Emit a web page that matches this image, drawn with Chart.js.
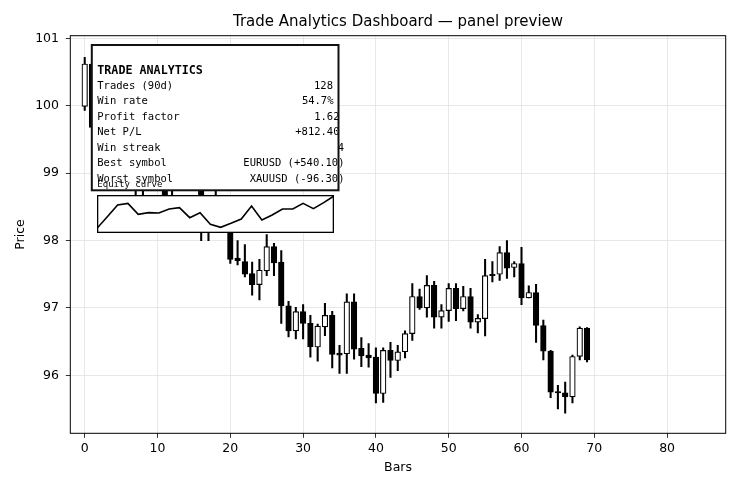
<!DOCTYPE html>
<html>
<head>
<meta charset="utf-8">
<title>Trade Analytics Dashboard</title>
<script src="https://cdn.jsdelivr.net/npm/chart.js@4.4.1/dist/chart.umd.min.js"></script>
<style>
  html, body { margin: 0; padding: 0; background: #fff; }
  #wrap { position: relative; width: 740px; height: 490px; }
  #priceChart { position: absolute; left: 0; top: 0; }
  #equityChart { position: absolute; left: 97px; top: 195px; }
</style>
</head>
<body>
<div id="wrap">
  <canvas id="priceChart" width="740" height="490"></canvas>
  <canvas id="equityChart" width="237" height="38"></canvas>
</div>
<script>
// OHLC per bar (bar index = position in array)
const opens  = [99.99, 100.62, 99.68, 99.52, 99.62, 99.28, 99.38, 99.05, 98.85, 99.00,
                99.15, 98.98, 98.45, 98.60, 98.40, 98.55, 98.80, 98.30, 98.45, 98.55,
                98.25, 97.74, 97.69, 97.51, 97.345, 97.55, 97.91, 97.68, 97.03, 96.66,
                96.945, 96.77, 96.42, 96.72, 96.89, 96.33, 96.32, 97.09, 96.40, 96.30,
                96.27, 95.73, 96.37, 96.22, 96.35, 96.62, 97.17, 97.00, 97.335, 96.865,
                96.96, 97.29, 96.99, 97.17, 96.79, 96.84, 97.50, 97.50, 97.82, 97.60,
                97.66, 97.15, 97.23, 96.74, 96.36, 95.76, 95.74, 95.68, 96.28, 96.70];
const highs  = [100.72, 100.63, 99.80, 99.70, 99.75, 99.45, 99.50, 99.20, 99.10, 99.25,
                99.30, 99.10, 98.80, 98.65, 98.62, 98.64, 98.85, 98.60, 98.80, 98.62,
                98.40, 98.00, 97.94, 97.68, 97.72, 98.09, 97.96, 97.85, 97.10, 97.01,
                97.05, 96.89, 96.76, 97.07, 96.95, 96.445, 97.21, 97.21, 96.56, 96.47,
                96.41, 96.41, 96.49, 96.445, 96.66, 97.36, 97.28, 97.48, 97.395, 97.05,
                97.36, 97.36, 97.32, 97.29, 96.90, 97.72, 97.69, 97.91, 98.00, 97.69,
                97.90, 97.33, 97.35, 96.82, 96.37, 95.85, 95.90, 96.30, 96.72, 96.71];
const lows   = [99.93, 99.66, 99.45, 99.30, 99.20, 99.05, 98.95, 98.62, 98.60, 98.80,
                98.90, 98.40, 98.35, 98.30, 98.28, 98.35, 98.00, 98.00, 98.35, 98.20,
                97.66, 97.64, 97.46, 97.19, 97.12, 97.48, 97.48, 96.77, 96.57, 96.54,
                96.54, 96.27, 96.21, 96.59, 96.11, 96.03, 96.03, 96.24, 96.13, 96.12,
                95.59, 95.60, 95.97, 96.07, 96.26, 96.52, 96.98, 96.865, 96.70, 96.70,
                96.80, 96.81, 96.955, 96.70, 96.63, 96.585, 97.385, 97.41, 97.44, 97.46,
                97.05, 97.15, 96.49, 96.23, 95.67, 95.50, 95.44, 95.59, 96.23, 96.20];
const closes = [100.62, 99.68, 99.52, 99.62, 99.28, 99.38, 99.05, 98.85, 99.00, 99.15,
                98.98, 98.45, 98.60, 98.40, 98.55, 98.62, 98.30, 98.45, 98.55, 98.25,
                97.72, 97.70, 97.50, 97.345, 97.56, 97.91, 97.67, 97.03, 96.66, 96.945,
                96.77, 96.42, 96.73, 96.89, 96.31, 96.30, 97.09, 96.39, 96.29, 96.26,
                95.73, 96.37, 96.22, 96.35, 96.62, 97.17, 97.00, 97.335, 96.865, 96.96,
                97.29, 96.99, 97.17, 96.79, 96.845, 97.48, 97.48, 97.82, 97.59, 97.66,
                97.15, 97.23, 96.74, 96.36, 95.75, 95.74, 95.68, 96.28, 96.70, 96.23];

const xTicks = [0, 10, 20, 30, 40, 50, 60, 70, 80];
const yTicks = [96, 97, 98, 99, 100, 101];

// equity curve for the inset
const equity = [0, 293, 586, 628, 352, 394, 385, 486, 519, 268, 394, 100,
                25, 126, 234, 561, 209, 335, 486, 486, 628, 494, 645, 812];

// stats panel
const statLabels = ['Trades (90d)', 'Win rate', 'Profit factor', 'Net P/L',
                    'Win streak', 'Best symbol', 'Worst symbol'];
const statValues = ['128', '54.7%', '1.62', '+812.40', '4',
                    'EURUSD (+540.10)', 'XAUUSD (-96.30)'];
const statRightX = [333, 333.5, 339.5, 339.5, 344, 344.5, 344.5];

const chartTitle = 'Trade Analytics Dashboard — panel preview';

document.addEventListener('DOMContentLoaded', function () {
    const bodies = opens.map((o, i) => ({ x: i, y: [o, closes[i]] }));
    const wicks = lows.map((l, i) => ({ x: i, y: [l, highs[i]] }));
    const bodyFill = opens.map((o, i) => closes[i] >= o ? '#ffffff' : '#000000');

    const framePlugin = {
        id: 'frameAndPanel',
        afterDraw(chart) {
            const c = chart.ctx;
            const a = chart.chartArea;
            c.save();
            // axes frame
            c.strokeStyle = '#000';
            c.lineWidth = 1;
            c.strokeRect(a.left, a.top, a.right - a.left, a.bottom - a.top);

            // title
            c.fillStyle = '#000';
            c.font = '15px "DejaVu Sans"';
            c.textAlign = 'center';
            c.textBaseline = 'middle';
            c.fillText(chartTitle, (a.left + a.right) / 2, 22);

            // stats panel
            c.fillStyle = '#fff';
            c.fillRect(91.8, 45, 246.7, 145.3);
            c.fillStyle = '#000';
            c.textBaseline = 'alphabetic';
            c.textAlign = 'left';
            c.font = 'bold 11.7px "DejaVu Sans Mono"';
            c.fillText('TRADE ANALYTICS', 97.3, 74);
            c.font = '10.5px "DejaVu Sans Mono"';
            statLabels.forEach((lab, i) => {
                const y = 88.5 + i * 15.55;
                c.textAlign = 'left';
                c.fillText(lab, 97.3, y);
                c.textAlign = 'right';
                c.fillText(statValues[i], statRightX[i], y);
            });
            c.strokeStyle = '#111';
            c.lineWidth = 2;
            c.strokeRect(91.8, 45, 246.7, 145.3);

            c.textAlign = 'left';
            c.font = '9px "DejaVu Sans Mono"';
            c.fillText('Equity curve', 97.3, 186.5);
            c.restore();
        }
    };

    new Chart(document.getElementById('priceChart'), {
        type: 'bar',
        data: {
            datasets: [
                {
                    label: 'body',
                    data: bodies,
                    backgroundColor: bodyFill,
                    borderColor: '#000',
                    borderWidth: 1.2,
                    borderSkipped: false,
                    barThickness: 5.6,
                    grouped: false,
                    order: 0
                },
                {
                    label: 'wick',
                    data: wicks,
                    backgroundColor: '#000',
                    borderWidth: 0,
                    barThickness: 1.4,
                    grouped: false,
                    order: 1
                }
            ]
        },
        options: {
            responsive: false,
            animation: false,
            layout: { padding: { top: 35.7, right: 14.3, left: 0, bottom: 0 } },
            plugins: {
                legend: { display: false },
                tooltip: { enabled: false },
                title: { display: false }
            },
            scales: {
                x: {
                    type: 'linear',
                    min: -1.98,
                    max: 88.05,
                    offset: false,
                    afterBuildTicks: s => { s.ticks = xTicks.map(v => ({ value: v })); },
                    afterFit: s => { s.height = 56.7; },
                    grid: { color: '#e2e2e2', lineWidth: 0.8, offset: false, tickLength: 4.5, tickColor: '#000' },
                    border: { display: false },
                    ticks: {
                        color: '#000',
                        padding: 3.2,
                        maxRotation: 0,
                        autoSkip: false,
                        font: { family: 'DejaVu Sans', size: 12.5 },
                        callback: v => String(v)
                    },
                    title: {
                        display: true,
                        text: 'Bars',
                        color: '#000',
                        font: { family: 'DejaVu Sans', size: 12.5 },
                        padding: { top: 0, bottom: 14.5 }
                    }
                },
                y: {
                    type: 'linear',
                    min: 95.14,
                    max: 101.04,
                    afterBuildTicks: s => { s.ticks = yTicks.map(v => ({ value: v })); },
                    afterFit: s => { s.width = 70.3; },
                    grid: { color: '#e2e2e2', lineWidth: 0.8, tickLength: 4.5, tickColor: '#000' },
                    border: { display: false },
                    ticks: {
                        color: '#000',
                        padding: 6.8,
                        font: { family: 'DejaVu Sans', size: 12.5 },
                        callback: v => String(v)
                    },
                    title: {
                        display: true,
                        text: 'Price',
                        color: '#000',
                        font: { family: 'DejaVu Sans', size: 12.5 },
                        padding: { top: 13.5, bottom: 0 }
                    }
                }
            }
        },
        plugins: [framePlugin]
    });

    const insetBorder = {
        id: 'insetBorder',
        beforeDraw(chart) {
            const c = chart.ctx;
            c.save();
            c.fillStyle = '#fff';
            c.fillRect(0, 0, chart.width, chart.height);
            c.restore();
        },
        afterDraw(chart) {
            const c = chart.ctx;
            c.save();
            c.strokeStyle = '#000';
            c.lineWidth = 1.3;
            c.strokeRect(0.65, 0.65, chart.width - 1.3, chart.height - 1.3);
            c.restore();
        }
    };

    new Chart(document.getElementById('equityChart'), {
        type: 'line',
        data: {
            datasets: [{
                data: equity.map((v, i) => ({ x: i, y: v })),
                borderColor: '#000',
                borderWidth: 1.6,
                pointRadius: 0,
                tension: 0,
                fill: false
            }]
        },
        options: {
            responsive: false,
            animation: false,
            layout: { padding: 0 },
            plugins: { legend: { display: false }, tooltip: { enabled: false } },
            scales: {
                x: { type: 'linear', display: false, min: 0, max: equity.length - 1 },
                y: { type: 'linear', display: false, min: -117, max: 838 }
            }
        },
        plugins: [insetBorder]
    });
});
</script>
</body>
</html>
